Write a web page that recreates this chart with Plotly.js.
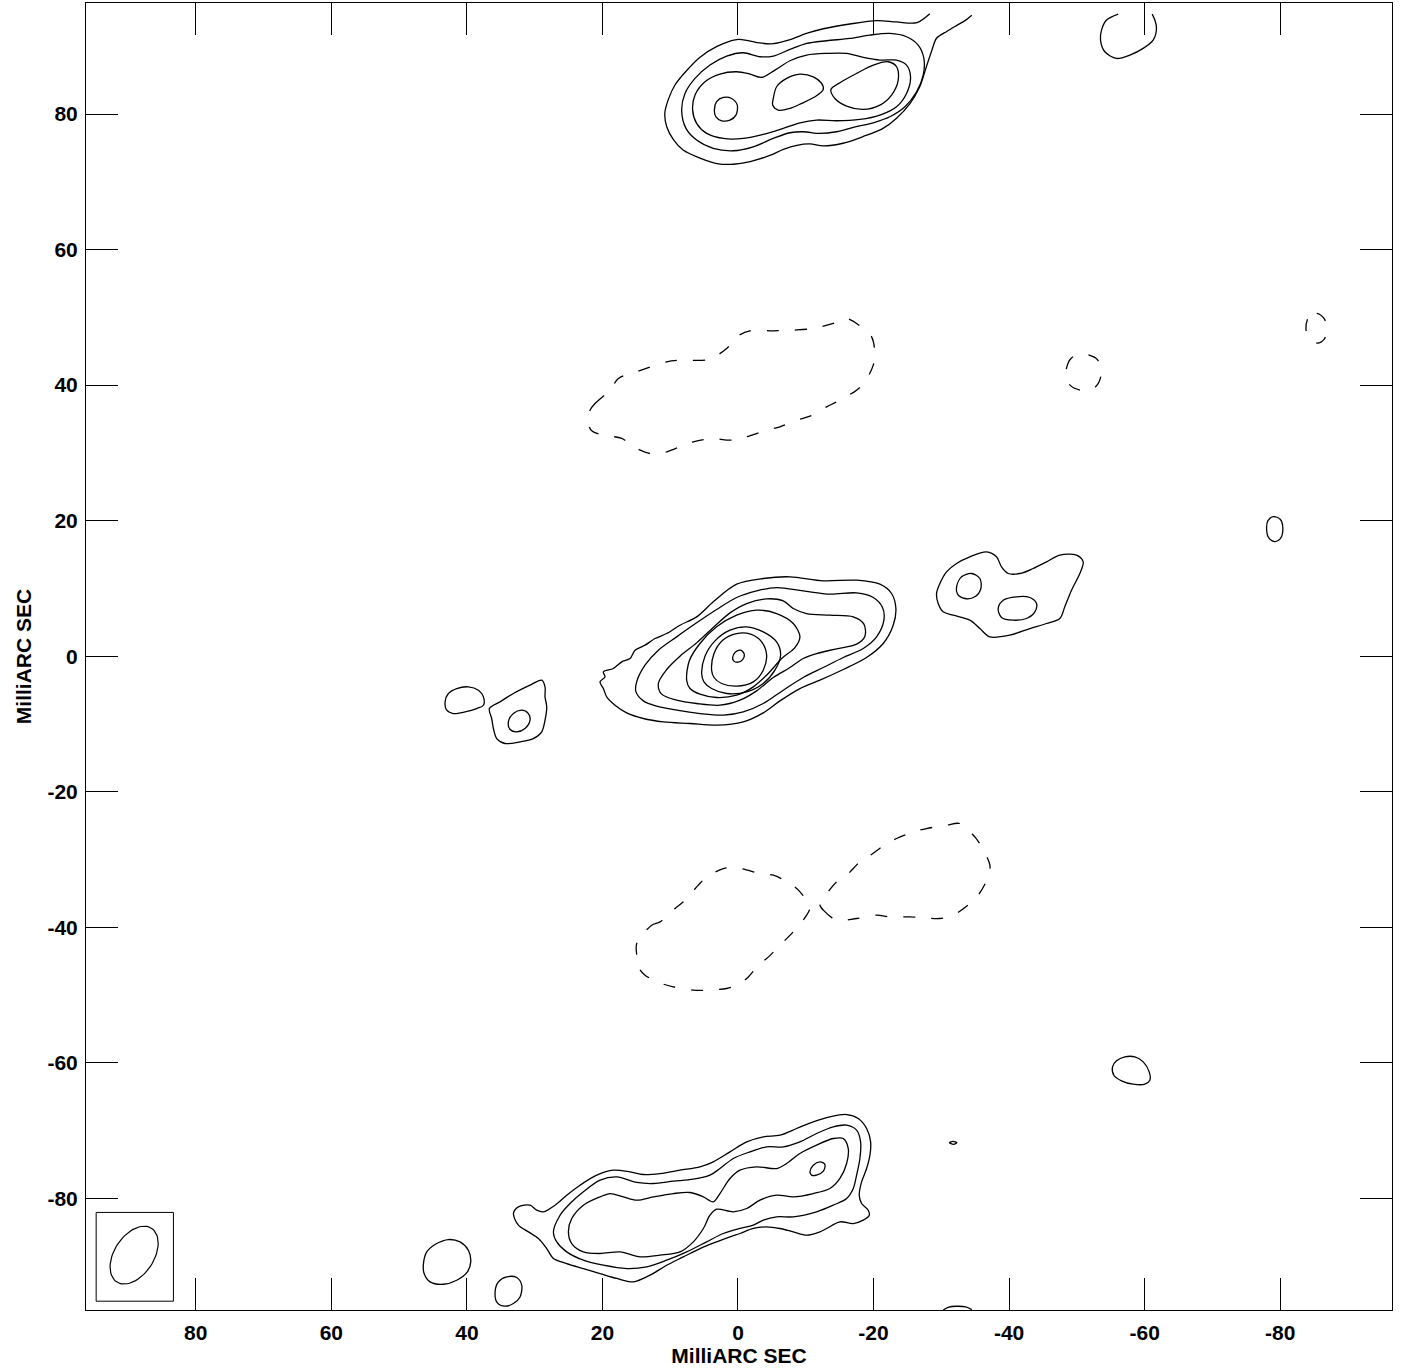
<!DOCTYPE html>
<html>
<head>
<meta charset="utf-8">
<script src="https://cdn.plot.ly/plotly-3.0.1.min.js"></script>
<style>html,body{margin:0;padding:0;background:#fff;}</style>
</head>
<body>
<div id="chart" style="width:1404px;height:1368px;"></div>
<script>
// ---- Axis ticks ----
const tickValues = [-80, -60, -40, -20, 0, 20, 40, 60, 80];
const tickLabels = ["-80", "-60", "-40", "-20", "0", "20", "40", "60", "80"];
const axisTitle = "MilliARC SEC";

// ---- Contour outlines, [RA offset mas, Dec offset mas] ----
// Northern component (open outer contour reaching map edge)
const northOuter = [[-28.3,94.8],[-26.4,93.5],[-23.4,93.6],[-20.5,93.8],[-16.5,93.3],[-12.6,92.6],[-10.1,91.9],[-7.7,91.0],[-5.2,90.4],[-3.2,90.5],[-1.3,90.9],[0.2,91.0],[3.1,90.0],[5.6,88.4],[7.6,86.4],[9.3,84.3],[10.3,82.1],[10.8,80.1],[10.5,78.1],[9.5,76.2],[8.1,74.7],[5.6,73.5],[3.1,72.7],[0.7,72.6],[-1.8,73.0],[-4.7,73.9],[-6.7,74.8],[-8.7,75.4],[-10.6,75.6],[-12.6,75.3],[-15.5,75.7],[-18.5,76.7],[-21.4,77.9],[-23.4,79.4],[-25.4,81.6],[-26.8,84.0],[-27.8,87.0],[-28.6,89.4],[-29.3,91.2],[-30.8,92.2],[-32.3,93.1],[-33.5,93.8],[-34.5,94.6]];
const northC2 = [[8.31,80.59],[7.82,83.05],[6.34,85.27],[4.13,87.24],[1.67,88.56],[-0.78,89.06],[-3.24,88.47],[-5.21,88.56],[-7.67,89.55],[-10.13,90.43],[-13.07,90.83],[-16.52,91.17],[-19.46,91.66],[-22.41,91.91],[-24.87,91.42],[-26.59,90.19],[-27.43,88.22],[-27.33,85.76],[-26.35,83.30],[-24.63,81.09],[-22.41,79.61],[-19.96,78.72],[-17.01,78.04],[-14.55,77.40],[-12.09,77.15],[-9.63,77.40],[-7.67,77.25],[-5.21,76.41],[-2.26,75.18],[0.69,74.59],[3.64,74.94],[6.10,76.17],[7.67,77.89]];
const northC3 = [[6.69,80.59],[6.34,82.81],[4.87,84.78],[2.66,85.91],[0.20,86.25],[-1.77,85.91],[-3.49,85.42],[-5.46,86.50],[-7.67,87.88],[-10.13,88.71],[-13.07,88.96],[-16.02,88.96],[-18.48,88.37],[-20.94,87.97],[-23.40,87.97],[-24.87,87.24],[-25.46,85.51],[-24.87,83.05],[-23.40,81.09],[-20.94,79.86],[-17.99,79.22],[-14.55,79.02],[-11.60,79.12],[-9.14,78.72],[-6.68,77.89],[-3.73,77.00],[-0.78,76.41],[2.16,76.41],[4.62,77.15],[6.10,78.63]];
const northPeakA = [[3.49,80.59],[3.15,81.84],[2.16,82.46],[0.94,82.31],[0.10,81.33],[0.30,79.86],[1.18,79.12],[2.41,79.02],[3.25,79.61]];
const northPeakB = [[-5.21,82.31],[-5.70,84.04],[-7.18,85.27],[-9.14,85.91],[-11.11,85.51],[-12.34,84.53],[-12.58,83.64],[-11.35,82.56],[-9.39,81.58],[-7.67,80.84],[-5.95,80.59],[-5.11,81.33]];
const northPeakC = [[-13.71,83.64],[-15.29,84.78],[-17.50,86.01],[-19.96,87.24],[-22.17,87.73],[-23.40,86.99],[-23.64,85.02],[-22.66,82.81],[-20.94,81.33],[-18.48,80.69],[-16.02,81.18],[-14.30,82.31]];
const northEastBlob = [[-56.10,94.76],[-54.38,93.88],[-53.64,92.40],[-53.49,90.93],[-54.13,89.20],[-55.85,88.22],[-57.82,88.71],[-59.78,89.70],[-61.26,90.93],[-61.75,92.65],[-61.51,93.88],[-61.11,94.76]];

// Core
const coreC1 = [[0.20,10.62],[-3.73,11.46],[-7.67,11.71],[-12.58,11.12],[-17.50,11.21],[-20.94,10.62],[-22.66,9.25],[-23.30,7.03],[-22.90,4.57],[-21.43,1.87],[-18.97,-0.20],[-15.53,-1.97],[-12.09,-3.55],[-9.14,-4.78],[-6.19,-6.60],[-3.73,-8.37],[-0.78,-9.70],[3.15,-10.19],[7.08,-9.94],[11.01,-9.70],[13.96,-9.20],[16.42,-8.37],[18.14,-7.24],[19.37,-6.01],[19.86,-4.78],[20.36,-3.79],[19.62,-3.05],[19.86,-2.32],[18.39,-1.82],[17.16,-0.84],[15.93,-0.35],[15.19,0.88],[13.71,1.62],[12.24,2.60],[10.51,3.34],[8.56,4.57],[6.10,5.80],[3.64,8.02]];
const coreC2 = [[14.95,-3.79],[13.72,-1.33],[11.75,0.88],[9.05,2.85],[6.10,4.92],[3.15,6.88],[0.20,8.66],[-2.75,9.64],[-5.70,10.13],[-9.63,9.64],[-13.57,9.15],[-17.50,9.34],[-19.96,8.66],[-21.33,7.18],[-21.53,5.31],[-20.45,2.85],[-18.48,1.13],[-15.53,-0.20],[-12.58,-1.68],[-9.63,-3.15],[-6.68,-5.02],[-3.73,-6.99],[-0.78,-8.22],[2.17,-8.71],[5.61,-8.47],[9.05,-7.97],[12.00,-7.38],[13.96,-6.60],[15.05,-5.27]];
const coreC3 = [[11.75,-4.04],[10.52,-1.97],[8.56,0.00],[6.10,1.96],[3.64,4.23],[1.18,6.39],[-1.28,7.77],[-4.23,8.46],[-6.68,8.16],[-8.16,7.03],[-10.12,6.29],[-13.56,6.05],[-17.01,5.80],[-18.58,4.72],[-18.73,2.95],[-17.50,1.77],[-14.55,1.08],[-11.60,0.39],[-9.63,-0.35],[-7.67,-1.68],[-5.21,-3.15],[-2.75,-5.12],[-0.29,-6.50],[2.66,-7.24],[6.10,-6.99],[9.05,-6.50],[11.26,-5.61]];
const coreC4 = [[7.57,-3.55],[7.18,-0.69],[5.61,1.87],[3.15,4.33],[0.20,6.05],[-2.75,6.79],[-5.70,6.29],[-8.16,4.82],[-9.14,2.85],[-8.40,1.27],[-6.44,-0.35],[-4.47,-2.56],[-2.26,-4.53],[0.20,-5.76],[3.15,-6.10],[5.61,-5.61],[7.08,-4.78]];
const coreC5 = [[5.36,-2.56],[4.87,0.00],[3.39,2.26],[1.18,3.83],[-1.28,4.33],[-3.73,3.59],[-5.70,2.11],[-6.29,0.14],[-5.45,-2.07],[-3.73,-4.04],[-1.28,-5.27],[1.67,-5.51],[3.89,-4.78],[5.02,-3.79]];
const coreC6 = [[3.89,-2.07],[3.54,0.39],[2.26,2.36],[0.20,3.34],[-1.87,3.24],[-3.49,2.11],[-4.23,0.14],[-3.73,-2.07],[-2.26,-3.79],[0.20,-4.43],[2.41,-4.04],[3.54,-3.15]];
const coreC7 = [[0.79,-0.20],[0.40,0.59],[-0.39,0.88],[-0.93,0.29],[-0.69,-0.50],[0.00,-0.89],[0.64,-0.69]];

// Western knot next to the core
const westOuter = [[-29.79,10.72],[-30.77,12.45],[-32.25,13.68],[-34.21,14.66],[-36.67,15.40],[-38.15,14.66],[-38.88,13.18],[-39.87,12.20],[-41.59,12.20],[-43.55,12.94],[-45.52,13.92],[-47.49,14.91],[-49.95,14.91],[-50.93,13.92],[-50.44,12.20],[-49.21,9.74],[-48.22,7.28],[-47.49,5.56],[-45.52,4.82],[-43.06,4.08],[-40.11,3.10],[-37.16,2.85],[-35.69,4.08],[-34.21,5.31],[-31.76,6.05],[-30.28,6.54],[-29.54,7.77],[-29.30,9.25]];
const westPeakA = [[-32.25,10.23],[-32.99,11.71],[-34.46,12.20],[-35.69,11.46],[-35.84,9.99],[-34.95,8.76],[-33.48,8.51],[-32.40,9.15]];
const westPeakB = [[-38.39,7.03],[-39.13,8.26],[-41.10,8.76],[-43.06,8.66],[-44.05,7.77],[-43.80,6.54],[-42.57,5.56],[-40.60,5.31],[-38.88,5.71]];

// Eastern knots next to the core
const eastBlobA = [[43.22,-6.74],[42.73,-5.51],[41.50,-4.78],[39.78,-4.53],[38.30,-5.02],[37.56,-6.01],[37.56,-7.24],[38.55,-7.73],[40.27,-8.22],[41.99,-8.47],[42.97,-7.97]];
const eastBlobB = [[36.68,-7.73],[35.11,-6.74],[33.14,-5.51],[30.68,-4.28],[28.96,-3.55],[28.47,-4.53],[28.47,-6.01],[28.22,-7.48],[28.47,-9.45],[28.96,-11.17],[30.19,-12.16],[32.16,-12.65],[34.37,-12.89],[35.60,-12.16],[36.09,-10.68],[36.34,-9.20]];
const eastBlobBInner = [[33.88,-9.70],[33.14,-8.47],[31.91,-7.97],[30.93,-8.47],[30.68,-9.45],[31.42,-10.68],[32.65,-11.17],[33.63,-10.83]];
const farWestBlob = [[-78.2,20.0],[-79.0,20.6],[-80.0,20.2],[-80.4,18.8],[-80.0,17.3],[-79.2,16.9],[-78.3,17.5],[-78.0,18.7]];

// Southern component
const southC1 = [[33.13,-82.26],[32.40,-81.28],[30.68,-81.03],[29.69,-81.77],[28.71,-82.01],[26.99,-81.03],[25.27,-79.55],[23.30,-78.08],[20.84,-76.60],[18.39,-75.86],[15.93,-76.11],[13.96,-76.50],[11.50,-76.36],[8.55,-75.86],[5.60,-75.37],[3.64,-74.63],[1.18,-73.16],[-1.28,-71.68],[-3.74,-70.94],[-6.19,-70.70],[-8.65,-69.71],[-11.11,-68.73],[-13.57,-67.99],[-16.03,-67.65],[-17.75,-68.24],[-18.98,-69.71],[-19.57,-71.68],[-19.47,-73.65],[-18.98,-75.62],[-18.24,-77.59],[-17.89,-79.55],[-18.24,-80.78],[-19.22,-81.77],[-19.37,-82.51],[-18.48,-83.24],[-17.01,-83.74],[-15.04,-83.49],[-13.08,-84.47],[-12.09,-84.97],[-10.13,-85.46],[-8.16,-84.97],[-6.19,-84.47],[-4.23,-84.23],[-2.26,-84.47],[-0.29,-85.21],[1.18,-85.70],[3.15,-86.44],[5.60,-87.43],[8.06,-88.66],[10.52,-89.89],[12.98,-91.36],[15.44,-92.35],[17.89,-91.85],[20.35,-91.12],[22.81,-90.38],[25.27,-89.64],[27.23,-88.90],[28.22,-87.43],[29.45,-85.95],[30.92,-84.97],[32.40,-83.98]];
const southC2 = [[27.23,-84.97],[26.25,-82.51],[24.78,-80.78],[22.81,-79.06],[20.35,-77.34],[17.89,-76.85],[14.94,-77.68],[12.49,-77.83],[9.54,-77.49],[6.59,-77.19],[4.13,-76.60],[2.66,-75.62],[0.69,-74.14],[-1.77,-73.16],[-4.23,-72.42],[-6.69,-72.42],[-9.14,-71.68],[-11.60,-70.45],[-14.06,-69.47],[-16.03,-69.22],[-17.50,-69.96],[-18.09,-71.68],[-17.99,-74.14],[-17.50,-76.60],[-17.01,-78.57],[-16.03,-80.05],[-14.06,-81.03],[-11.60,-82.01],[-8.16,-82.75],[-5.70,-82.75],[-3.74,-83.24],[-2.26,-83.98],[-0.30,-84.47],[2.16,-85.21],[4.62,-86.44],[7.57,-87.92],[10.52,-89.15],[13.47,-90.13],[16.42,-90.38],[19.86,-89.89],[22.81,-89.15],[25.27,-87.92],[26.74,-86.44]];
const southC3 = [[25.02,-84.97],[24.53,-83.00],[22.81,-81.03],[20.35,-79.80],[18.88,-79.31],[16.91,-79.80],[14.94,-80.29],[12.49,-79.80],[9.54,-79.31],[7.08,-79.16],[5.11,-79.80],[3.64,-80.54],[2.66,-79.31],[1.18,-77.09],[-0.30,-75.86],[-2.75,-75.37],[-5.70,-75.62],[-7.18,-74.88],[-9.14,-73.40],[-11.60,-72.17],[-14.06,-71.19],[-15.53,-71.19],[-16.27,-72.67],[-16.03,-74.88],[-15.04,-77.09],[-13.57,-78.57],[-11.11,-79.31],[-8.16,-79.80],[-5.70,-79.55],[-3.24,-80.29],[-1.28,-81.52],[0.69,-82.01],[3.15,-81.62],[4.13,-82.51],[5.11,-84.47],[6.59,-86.44],[8.55,-87.92],[11.50,-88.41],[14.45,-88.66],[17.40,-87.92],[20.35,-88.16],[22.81,-87.92],[24.53,-86.69]];
const southPeak = [[-10.62,-76.11],[-11.11,-75.13],[-12.09,-74.63],[-12.83,-75.03],[-12.59,-76.01],[-11.60,-76.60],[-10.86,-76.60]];
const southEastBlobA = [[46.41,-89.65],[45.92,-87.92],[44.45,-86.69],[42.73,-86.10],[41.01,-86.45],[39.78,-87.68],[39.43,-89.40],[39.92,-90.88],[41.50,-92.11],[43.46,-92.70],[45.43,-92.35],[46.31,-91.12]];
const southEastBlobB = [[35.84,-93.83],[35.35,-92.35],[34.12,-91.61],[32.65,-91.71],[31.91,-92.84],[32.16,-94.57],[33.14,-95.55],[34.37,-95.94],[35.50,-95.45]];
const southWestBlob = [[-55.26,-60.62],[-55.85,-59.73],[-57.08,-59.14],[-58.56,-59.14],[-59.79,-59.88],[-60.67,-61.35],[-60.77,-62.58],[-60.03,-63.17],[-58.31,-63.17],[-56.59,-62.68],[-55.46,-61.85]];
const tinyBlob = [[-31.2,-71.8],[-31.7,-71.6],[-32.3,-71.8],[-31.8,-72.05]];
const edgeArc = [[-30.3,-96.5],[-31.0,-96.1],[-32.3,-95.95],[-33.6,-96.05],[-34.5,-96.45]];

// Negative (dashed) contours
const negNorth = [[21.83,36.31],[21.09,37.29],[18.88,39.26],[17.65,40.98],[14.94,41.97],[10.52,43.44],[8.55,43.69],[4.37,43.79],[1.67,45.41],[0.19,47.13],[-1.77,48.02],[-5.21,48.02],[-8.16,48.12],[-11.11,48.36],[-14.06,49.10],[-16.03,49.84],[-18.49,48.36],[-19.72,47.13],[-20.21,44.67],[-19.96,42.95],[-18.73,40.49],[-17.50,39.26],[-14.55,37.54],[-13.08,36.80],[-10.62,35.42],[-8.65,34.83],[-6.20,33.85],[-4.23,33.36],[-1.28,32.37],[0.19,31.98],[1.67,31.88],[3.64,32.13],[6.59,31.64],[8.31,31.00],[11.01,30.01],[12.98,29.91],[15.43,30.90],[17.15,32.13],[19.86,32.62],[21.58,33.26],[22.07,34.34]];
const negSouthA = [[14.94,-42.41],[12.73,-39.71],[11.50,-39.21],[9.29,-37.25],[8.06,-36.26],[5.85,-33.80],[4.86,-32.82],[2.16,-31.34],[-0.30,-31.34],[-3.25,-32.08],[-5.21,-32.33],[-7.67,-33.56],[-9.15,-34.79],[-10.62,-37.00],[-10.13,-38.23],[-8.16,-40.69],[-6.69,-42.17],[-4.23,-44.63],[-3.25,-45.36],[-1.28,-47.58],[0.19,-48.56],[1.67,-49.05],[4.62,-49.30],[6.59,-49.30],[9.53,-48.81],[11.25,-48.32],[13.71,-47.09],[14.70,-45.86],[14.94,-44.13]];
const negSouthB = [[-12.10,-36.75],[-12.59,-37.49],[-14.55,-38.97],[-17.50,-38.72],[-20.45,-38.23],[-22.42,-38.48],[-25.37,-38.48],[-27.34,-38.62],[-29.79,-38.72],[-31.76,-38.23],[-34.22,-36.51],[-35.45,-35.28],[-36.92,-32.57],[-37.17,-30.85],[-35.94,-28.14],[-34.95,-26.67],[-32.74,-24.70],[-30.78,-24.95],[-27.83,-25.44],[-25.86,-25.93],[-23.40,-26.91],[-21.93,-27.65],[-19.22,-29.62],[-18.00,-30.36],[-16.03,-32.33],[-14.55,-33.31],[-12.59,-35.77]];
const negSmallA = [[-51.0,44.6],[-49.2,44.0],[-48.4,42.0],[-49.0,40.0],[-51.0,39.2],[-52.8,39.8],[-53.6,41.7],[-53.0,43.8]];
const negSmallB = [[-84.2,50.0],[-85.4,50.6],[-86.5,49.8],[-86.9,48.3],[-86.5,46.8],[-85.5,46.2],[-84.4,46.8],[-83.8,48.3]];

// Restoring beam (full axes in mas, position angle in degrees) and its box
const beamCenter = [89.1, -88.4];
const beamAxes = [9.44, 5.84];
const beamPA = -33;
const beamBox = {x0: 94.7, x1: 83.3, y0: -82.1, y1: -95.2};

// ---- Build traces ----
const solidClosed = [northC2, northC3, northPeakA, northPeakB, northPeakC,
  coreC1, coreC2, coreC3, coreC4, coreC5, coreC6, coreC7,
  westOuter, westPeakA, westPeakB, eastBlobA, eastBlobB, eastBlobBInner, farWestBlob,
  southC1, southC2, southC3, southPeak, southEastBlobA, southEastBlobB, southWestBlob, tinyBlob];
const solidOpen = [northOuter, northEastBlob, edgeArc];
const dashedClosed = [negNorth, negSouthA, negSouthB, negSmallA, negSmallB];

function mk(pts, closed, dash) {
  const xs = pts.map(p => p[0]);
  const ys = pts.map(p => p[1]);
  if (closed) { xs.push(pts[0][0]); ys.push(pts[0][1]); }
  return {x: xs, y: ys, type: 'scatter', mode: 'lines', hoverinfo: 'skip',
    line: {color: '#000', width: 1.3, shape: 'spline', smoothing: 0.9, dash: dash || 'solid'},
    showlegend: false};
}
const traces = [];
solidClosed.forEach(c => traces.push(mk(c, true)));
solidOpen.forEach(c => traces.push(mk(c, false)));
dashedClosed.forEach(c => traces.push(mk(c, true, '12px,16px')));

// beam ellipse from its parameters
(function(){
  const a = beamAxes[0]/2, b = beamAxes[1]/2, th = beamPA*Math.PI/180;
  const bx = [], by = [];
  for (let i = 0; i <= 72; i++) {
    const t = i/72*2*Math.PI;
    const u = b*Math.cos(t), v = a*Math.sin(t);
    bx.push(beamCenter[0] + u*Math.cos(th) + v*Math.sin(th));
    by.push(beamCenter[1] - u*Math.sin(th) + v*Math.cos(th));
  }
  traces.push({x: bx, y: by, type:'scatter', mode:'lines', hoverinfo:'skip', showlegend:false,
    line:{color:'#000', width:1.2}});
})();

const fnt = {family: 'Liberation Sans, Arial, Helvetica, sans-serif', size: 21, color: '#000', weight: 'bold'};
const axisCommon = {
  tickmode: 'array', tickvals: tickValues, ticktext: tickLabels,
  ticks: 'inside', ticklen: 32, tickwidth: 1, tickcolor: '#000',
  showline: true, linecolor: '#000', linewidth: 1, mirror: 'allticks',
  showgrid: false, zeroline: false, tickfont: fnt
};
const layout = {
  width: 1404, height: 1368,
  margin: {l: 86, r: 12, t: 3, b: 58},
  paper_bgcolor: '#fff', plot_bgcolor: '#fff',
  xaxis: Object.assign({}, axisCommon, {range: [96.2, -96.5], ticklabelstandoff: 4,
    title: {text: axisTitle, font: fnt, standoff: 3}}),
  yaxis: Object.assign({}, axisCommon, {range: [-96.5, 96.4], ticklabelstandoff: 3,
    title: {text: axisTitle, font: fnt, standoff: 10}}),
  shapes: [{type: 'rect', xref: 'x', yref: 'y', x0: beamBox.x0, x1: beamBox.x1,
    y0: beamBox.y0, y1: beamBox.y1, line: {color: '#000', width: 1}}],
  showlegend: false
};
Plotly.newPlot('chart', traces, layout, {staticPlot: true, displayModeBar: false});
</script>
</body>
</html>
